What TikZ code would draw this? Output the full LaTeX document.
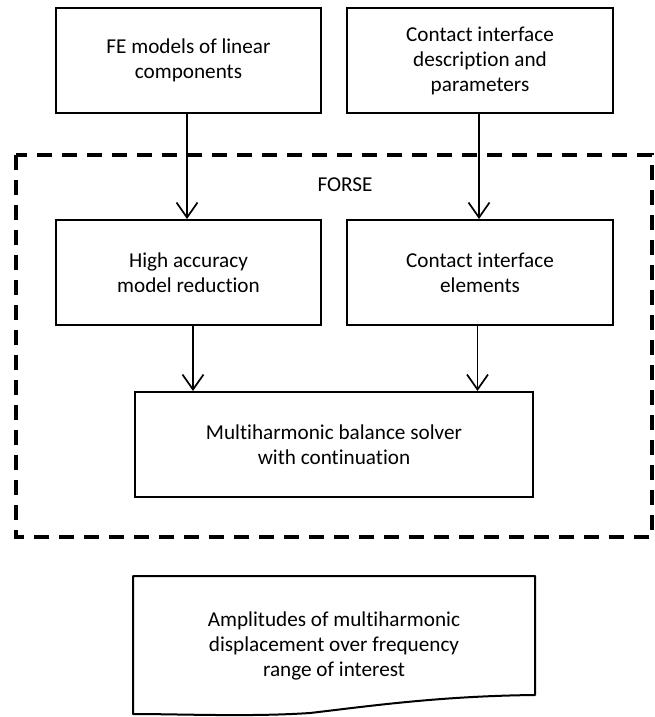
\documentclass[tikz,border=0pt]{standalone}
\usepackage{fontspec}
\setmainfont{Carlito}[Ligatures=NoCommon]
\usetikzlibrary{arrows.meta}
\begin{document}
\begin{tikzpicture}[x=1pt,y=-1pt,
  txt/.style={font=\fontsize{21.2}{25}\selectfont},
  block/.style={draw, line width=2pt, align=center, inner sep=0pt, txt},
  flow/.style={line width=1.7pt, -{Straight Barb[length=15pt,width=21pt,line width=1.7pt]}},
  frame/.style={line width=3.8pt, dash pattern=on 15pt off 10pt}
]
\useasboundingbox (0,0) rectangle (654,717);
\fill[white] (0,0) rectangle (654,717);

% dashed FORSE frame
\draw[frame] (16,155) rectangle (652,537);
\node[txt] (forse) at (345,185) {FORSE};

% input blocks
\node[block, minimum width=265pt, minimum height=105pt] (fe) at (188.5,60.5)
  {FE models of linear\\components};
\node[block, minimum width=266pt, minimum height=105pt] (ci) at (480,60.5)
  {Contact interface\\description and\\parameters};

% processing blocks
\node[block, minimum width=265pt, minimum height=105pt] (red) at (188.5,272.5)
  {High accuracy\\model reduction};
\node[block, minimum width=266pt, minimum height=105pt] (cel) at (480,272.5)
  {Contact interface\\elements};
\node[block, minimum width=398pt, minimum height=105pt] (mhb) at (334,444.5)
  {Multiharmonic balance solver\\with continuation};

% output document with wavy lower edge
\draw[line width=2pt, line join=round] (133,576) -- (535,576) -- (535,695)
  .. controls (440,696) and (370,706) .. (310,713)
  .. controls (250,717) and (180,714) .. (133,714) -- cycle;
\node[align=center, txt] (out) at (334,646)
  {Amplitudes of multiharmonic\\displacement over frequency\\range of interest};

% connectors
\draw[flow] ([xshift=-1.5pt]fe.south) -- ([xshift=-1.5pt]red.north);
\draw[flow] ([xshift=-1pt]ci.south) -- ([xshift=-1pt]cel.north);
\draw[flow] ([xshift=4.5pt]red.south) -- ([xshift=4.5pt]red.south |- mhb.north);
\draw[flow] ([xshift=-2.5pt]cel.south) -- ([xshift=-2.5pt]cel.south |- mhb.north);
\end{tikzpicture}
\end{document}
